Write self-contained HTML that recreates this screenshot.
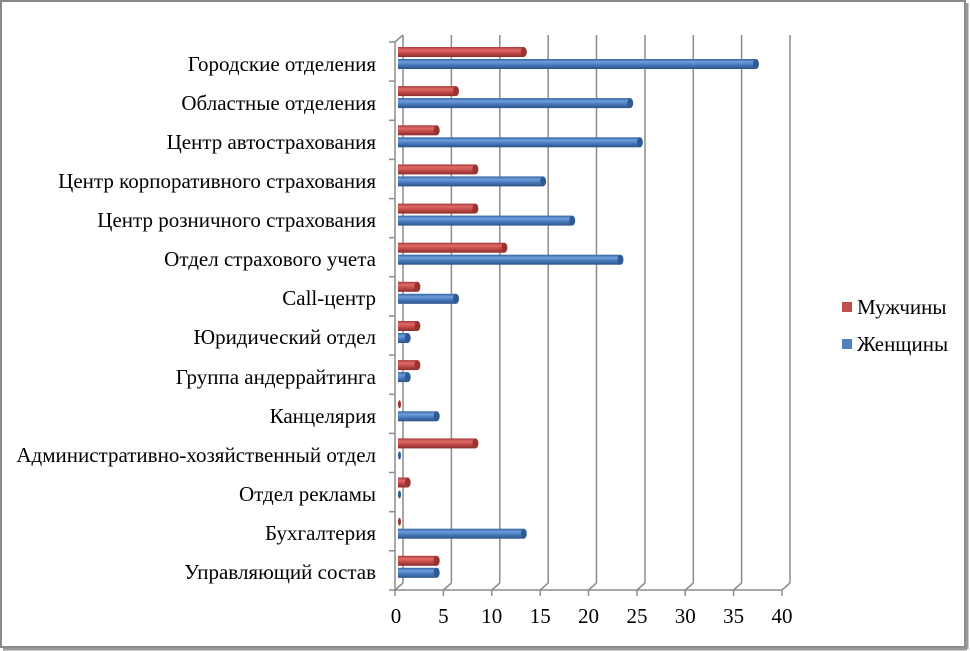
<!DOCTYPE html>
<html><head><meta charset="utf-8"><style>
html,body{margin:0;padding:0;background:#fff}
svg{display:block}
text{font-family:"Liberation Serif","DejaVu Serif",serif;font-size:21px;fill:#000}
</style></head><body>
<svg width="970" height="651" viewBox="0 0 970 651" xmlns="http://www.w3.org/2000/svg">
<defs>
<linearGradient id="r" x1="0" y1="0" x2="0" y2="1"><stop offset="0" stop-color="#a83a38"/><stop offset="0.3" stop-color="#e06a66"/><stop offset="0.55" stop-color="#c9504d"/><stop offset="1" stop-color="#8a2c2a"/></linearGradient>
<linearGradient id="b" x1="0" y1="0" x2="0" y2="1"><stop offset="0" stop-color="#35659f"/><stop offset="0.3" stop-color="#6d9ddc"/><stop offset="0.55" stop-color="#4d7fc2"/><stop offset="1" stop-color="#2b5288"/></linearGradient>
</defs>
<rect x="1" y="1" width="964" height="646" fill="#fff" stroke="#888" stroke-width="2"/>
<line x1="967" y1="3" x2="967" y2="649" stroke="#999" stroke-width="3"/>
<line x1="3" y1="649" x2="967" y2="649" stroke="#999" stroke-width="3"/>
<g stroke="#8c8c8c" stroke-width="1.5" fill="none">
<line x1="403" y1="35" x2="403" y2="583"/>
<line x1="451.4" y1="35" x2="451.4" y2="583"/>
<line x1="499.8" y1="35" x2="499.8" y2="583"/>
<line x1="548.2" y1="35" x2="548.2" y2="583"/>
<line x1="596.5" y1="35" x2="596.5" y2="583"/>
<line x1="645" y1="35" x2="645" y2="583"/>
<line x1="693.3" y1="35" x2="693.3" y2="583"/>
<line x1="741.6" y1="35" x2="741.6" y2="583"/>
<line x1="790" y1="35" x2="790" y2="583"/>
<line x1="395" y1="590" x2="403" y2="583"/>
<line x1="443.4" y1="590" x2="451.4" y2="583"/>
<line x1="491.8" y1="590" x2="499.8" y2="583"/>
<line x1="540.2" y1="590" x2="548.2" y2="583"/>
<line x1="588.5" y1="590" x2="596.5" y2="583"/>
<line x1="637" y1="590" x2="645" y2="583"/>
<line x1="685.3" y1="590" x2="693.3" y2="583"/>
<line x1="733.6" y1="590" x2="741.6" y2="583"/>
<line x1="782" y1="590" x2="790" y2="583"/>
<line x1="395" y1="42" x2="403" y2="35"/>
<line x1="395" y1="42" x2="395" y2="590"/>
<line x1="395" y1="590" x2="782" y2="590"/>
<line x1="389" y1="42" x2="395" y2="42"/><line x1="389" y1="81.1" x2="395" y2="81.1"/><line x1="389" y1="120.3" x2="395" y2="120.3"/><line x1="389" y1="159.4" x2="395" y2="159.4"/><line x1="389" y1="198.6" x2="395" y2="198.6"/><line x1="389" y1="237.7" x2="395" y2="237.7"/><line x1="389" y1="276.8" x2="395" y2="276.8"/><line x1="389" y1="316" x2="395" y2="316"/><line x1="389" y1="355.1" x2="395" y2="355.1"/><line x1="389" y1="394.3" x2="395" y2="394.3"/><line x1="389" y1="433.4" x2="395" y2="433.4"/><line x1="389" y1="472.5" x2="395" y2="472.5"/><line x1="389" y1="511.7" x2="395" y2="511.7"/><line x1="389" y1="550.8" x2="395" y2="550.8"/><line x1="389" y1="590" x2="395" y2="590"/>
<line x1="395" y1="590" x2="395" y2="596"/><line x1="443.4" y1="590" x2="443.4" y2="596"/><line x1="491.8" y1="590" x2="491.8" y2="596"/><line x1="540.2" y1="590" x2="540.2" y2="596"/><line x1="588.5" y1="590" x2="588.5" y2="596"/><line x1="637" y1="590" x2="637" y2="596"/><line x1="685.3" y1="590" x2="685.3" y2="596"/><line x1="733.6" y1="590" x2="733.6" y2="596"/><line x1="782" y1="590" x2="782" y2="596"/>
</g>
<g>
<rect x="398" y="47" width="125.8" height="10" fill="url(#r)"/><ellipse cx="523.8" cy="52" rx="3" ry="5" fill="#9a3431"/>
<rect x="398" y="86.1" width="58" height="10" fill="url(#r)"/><ellipse cx="456" cy="91.1" rx="3" ry="5" fill="#9a3431"/>
<rect x="398" y="125.3" width="38.7" height="10" fill="url(#r)"/><ellipse cx="436.7" cy="130.3" rx="3" ry="5" fill="#9a3431"/>
<rect x="398" y="164.4" width="77.4" height="10" fill="url(#r)"/><ellipse cx="475.4" cy="169.4" rx="3" ry="5" fill="#9a3431"/>
<rect x="398" y="203.6" width="77.4" height="10" fill="url(#r)"/><ellipse cx="475.4" cy="208.6" rx="3" ry="5" fill="#9a3431"/>
<rect x="398" y="242.7" width="106.4" height="10" fill="url(#r)"/><ellipse cx="504.4" cy="247.7" rx="3" ry="5" fill="#9a3431"/>
<rect x="398" y="281.8" width="19.4" height="10" fill="url(#r)"/><ellipse cx="417.4" cy="286.8" rx="3" ry="5" fill="#9a3431"/>
<rect x="398" y="321" width="19.4" height="10" fill="url(#r)"/><ellipse cx="417.4" cy="326" rx="3" ry="5" fill="#9a3431"/>
<rect x="398" y="360.1" width="19.4" height="10" fill="url(#r)"/><ellipse cx="417.4" cy="365.1" rx="3" ry="5" fill="#9a3431"/>
<ellipse cx="399.5" cy="404.3" rx="1.5" ry="4" fill="#9a3431"/>
<rect x="398" y="438.4" width="77.4" height="10" fill="url(#r)"/><ellipse cx="475.4" cy="443.4" rx="3" ry="5" fill="#9a3431"/>
<rect x="398" y="477.5" width="9.7" height="10" fill="url(#r)"/><ellipse cx="407.7" cy="482.5" rx="3" ry="5" fill="#9a3431"/>
<ellipse cx="399.5" cy="521.7" rx="1.5" ry="4" fill="#9a3431"/>
<rect x="398" y="555.8" width="38.7" height="10" fill="url(#r)"/><ellipse cx="436.7" cy="560.8" rx="3" ry="5" fill="#9a3431"/>
<rect x="398" y="59" width="358" height="10" fill="url(#b)"/><ellipse cx="756" cy="64" rx="3" ry="5" fill="#2f5b93"/>
<rect x="398" y="98.1" width="232.2" height="10" fill="url(#b)"/><ellipse cx="630.2" cy="103.1" rx="3" ry="5" fill="#2f5b93"/>
<rect x="398" y="137.3" width="241.9" height="10" fill="url(#b)"/><ellipse cx="639.9" cy="142.3" rx="3" ry="5" fill="#2f5b93"/>
<rect x="398" y="176.4" width="145.1" height="10" fill="url(#b)"/><ellipse cx="543.1" cy="181.4" rx="3" ry="5" fill="#2f5b93"/>
<rect x="398" y="215.6" width="174.2" height="10" fill="url(#b)"/><ellipse cx="572.2" cy="220.6" rx="3" ry="5" fill="#2f5b93"/>
<rect x="398" y="254.7" width="222.5" height="10" fill="url(#b)"/><ellipse cx="620.5" cy="259.7" rx="3" ry="5" fill="#2f5b93"/>
<rect x="398" y="293.8" width="58" height="10" fill="url(#b)"/><ellipse cx="456" cy="298.8" rx="3" ry="5" fill="#2f5b93"/>
<rect x="398" y="333" width="9.7" height="10" fill="url(#b)"/><ellipse cx="407.7" cy="338" rx="3" ry="5" fill="#2f5b93"/>
<rect x="398" y="372.1" width="9.7" height="10" fill="url(#b)"/><ellipse cx="407.7" cy="377.1" rx="3" ry="5" fill="#2f5b93"/>
<rect x="398" y="411.3" width="38.7" height="10" fill="url(#b)"/><ellipse cx="436.7" cy="416.3" rx="3" ry="5" fill="#2f5b93"/>
<ellipse cx="399.5" cy="455.4" rx="1.5" ry="4" fill="#2f5b93"/>
<ellipse cx="399.5" cy="494.5" rx="1.5" ry="4" fill="#2f5b93"/>
<rect x="398" y="528.7" width="125.8" height="10" fill="url(#b)"/><ellipse cx="523.8" cy="533.7" rx="3" ry="5" fill="#2f5b93"/>
<rect x="398" y="567.8" width="38.7" height="10" fill="url(#b)"/><ellipse cx="436.7" cy="572.8" rx="3" ry="5" fill="#2f5b93"/>
</g>
<g text-anchor="end">
<text x="376" y="71">Городские отделения</text>
<text x="376" y="110">Областные отделения</text>
<text x="376" y="149">Центр автострахования</text>
<text x="376" y="188">Центр корпоративного страхования</text>
<text x="376" y="227">Центр розничного страхования</text>
<text x="376" y="266">Отдел страхового учета</text>
<text x="376" y="305">Call-центр</text>
<text x="376" y="344">Юридический отдел</text>
<text x="376" y="384">Группа  андеррайтинга</text>
<text x="376" y="423">Канцелярия</text>
<text x="376" y="462">Административно-хозяйственный  отдел</text>
<text x="376" y="501">Отдел рекламы</text>
<text x="376" y="540">Бухгалтерия</text>
<text x="376" y="579">Управляющий состав</text>
</g>
<g text-anchor="middle">
<text x="396" y="623">0</text><text x="443.4" y="623">5</text><text x="491.8" y="623">10</text><text x="540.2" y="623">15</text><text x="588.5" y="623">20</text><text x="637" y="623">25</text><text x="685.3" y="623">30</text><text x="733.6" y="623">35</text><text x="782" y="623">40</text>
</g>
<rect x="842" y="302" width="10" height="10" fill="#c0504d"/>
<text x="857" y="314">Мужчины</text>
<rect x="842" y="339" width="10" height="10" fill="#4f81bd"/>
<text x="857" y="351">Женщины</text>
</svg>
</body></html>
